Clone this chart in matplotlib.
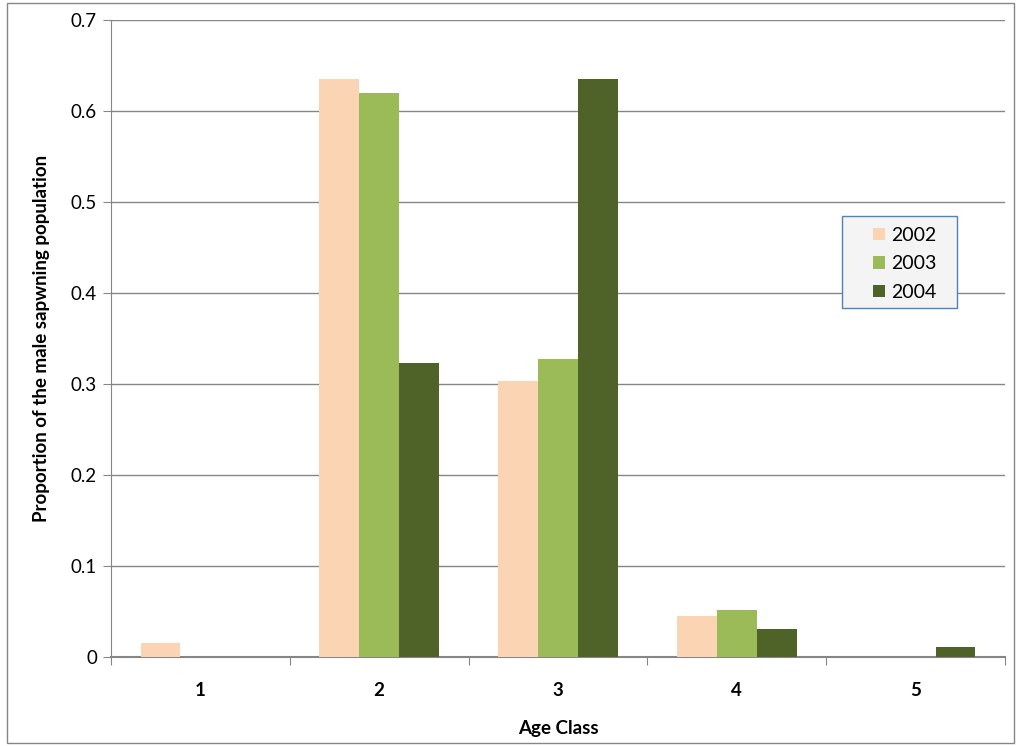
import numpy as np
import matplotlib
matplotlib.use("Agg")
import matplotlib.pyplot as plt
from matplotlib.patches import Rectangle

plt.rcParams['font.family'] = ['Lato', 'DejaVu Sans']

# data
age_classes = ['1', '2', '3', '4', '5']
years = ['2002', '2003', '2004']
p2002 = [0.0154, 0.635, 0.303, 0.045, 0.0]
p2003 = [0.0, 0.620, 0.327, 0.0516, 0.0]
p2004 = [0.0, 0.323, 0.635, 0.0307, 0.011]
colors = ['#FBD4B4', '#9BBB59', '#4F6228']

fig = plt.figure(figsize=(10.21, 7.46), dpi=100)
ax = fig.add_axes([0.1087, 0.1193, 0.8756, 0.8539])

# outer chart border
fig.patches.append(Rectangle((0.007, 0.004), 0.986, 0.992, transform=fig.transFigure,
                             fill=False, edgecolor='#868686', linewidth=1.0))

x = np.arange(len(age_classes))
w = 0.223
for i, (vals, yr) in enumerate(zip([p2002, p2003, p2004], years)):
    ax.bar(x + (i - 1) * w, vals, width=w, color=colors[i], label=yr, zorder=3)

ax.set_xlim(-0.5, len(age_classes) - 0.5)
ax.set_ylim(0, 0.7)
ax.set_yticks(np.arange(0, 0.71, 0.1))
ax.set_yticklabels(['0', '0.1', '0.2', '0.3', '0.4', '0.5', '0.6', '0.7'], fontsize=13.5)
ax.yaxis.grid(True, color='#868686', linewidth=1.0, zorder=0)

ax.set_xticks(np.arange(-0.5, len(age_classes), 1.0))
ax.set_xticklabels([])
ax.set_xticks(x, minor=True)
ax.set_xticklabels(age_classes, minor=True, fontsize=13.5, fontweight='bold')
ax.tick_params(axis='x', which='minor', length=0, pad=18)
ax.tick_params(axis='x', which='major', length=6, color='#868686')
ax.tick_params(axis='y', length=6, color='#868686', pad=4)

for s in ['top', 'right']:
    ax.spines[s].set_visible(False)
for s in ['left', 'bottom']:
    ax.spines[s].set_color('#868686')
ax.spines['bottom'].set_linewidth(1.5)

ax.set_xlabel('Age Class', fontsize=13.5, fontweight='bold', labelpad=15)
ax.set_ylabel('Proportion of the male sapwning population', fontsize=13.5,
              fontweight='bold', labelpad=15)

# legend box (drawn separately to get the wide left padding)
ax.add_patch(Rectangle((0.8247, 0.5871), 0.1126, 0.1233, transform=fig.transFigure,
                       facecolor='#F4F4F4', edgecolor='#4F81BD', linewidth=1.0,
                       zorder=4, clip_on=False))
leg = ax.legend(loc='upper left', bbox_to_anchor=(0.855, 0.696),
                bbox_transform=fig.transFigure, fontsize=14, frameon=False,
                handlelength=0.6, handleheight=0.6, handletextpad=0.35,
                labelspacing=0.6, borderpad=0, borderaxespad=0)
leg.set_zorder(5)

fig.savefig('out.png', dpi=100)
